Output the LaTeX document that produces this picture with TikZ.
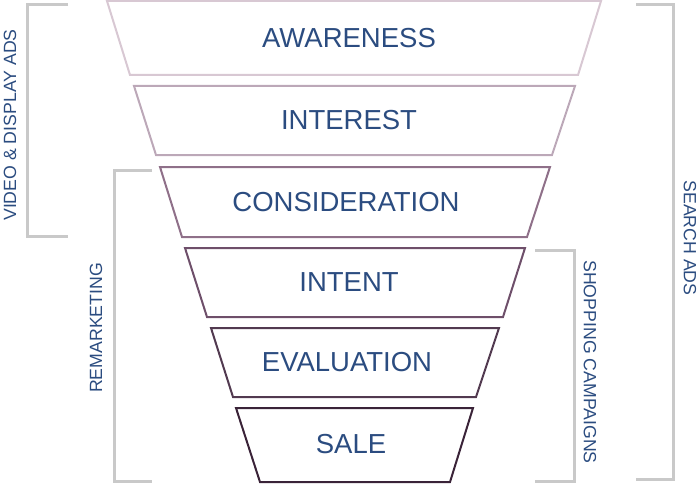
\documentclass[tikz,border=0pt]{standalone}
\usepackage{fontspec}
\setmainfont{Liberation Sans}
\definecolor{txt}{HTML}{2B4C80}
\definecolor{brk}{HTML}{C9C9C9}
\definecolor{c1}{HTML}{D8C8D3}
\definecolor{c2}{HTML}{BCA8B8}
\definecolor{c3}{HTML}{8F7089}
\definecolor{c4}{HTML}{6E4F6A}
\definecolor{c5}{HTML}{523A50}
\definecolor{c6}{HTML}{3A2338}
\tikzset{
  stage/.style={line width=2pt, line join=miter},
  lbl/.style={text=txt, font=\fontsize{27.5}{30}\selectfont, inner sep=0pt},
  side/.style={text=txt, font=\fontsize{17.7}{20}\selectfont, inner sep=0pt},
  bracket/.style={draw=brk, line width=3pt},
}
\begin{document}
\begin{tikzpicture}[x=1pt,y=-1pt]
\useasboundingbox (0,0) rectangle (700,484);
% funnel stages
\draw[stage,draw=c1] (107,1) -- (601,1) -- (578,75) -- (130,75) -- cycle;
\draw[stage,draw=c2] (134,86) -- (575,86) -- (552,155) -- (156,155) -- cycle;
\draw[stage,draw=c3] (160,167) -- (550,167) -- (527,237) -- (182,237) -- cycle;
\draw[stage,draw=c4] (185,248) -- (525,248) -- (503,317) -- (207,317) -- cycle;
\draw[stage,draw=c5] (211,328) -- (499,328) -- (476,397) -- (233,397) -- cycle;
\draw[stage,draw=c6] (236,408) -- (473,408) -- (450,482) -- (260,482) -- cycle;
\node[lbl] (aw) at (349,38) {AWARENESS};
\node[lbl] (in) at (349,120) {INTEREST};
\node[lbl] (co) at (346,202) {CONSIDERATION};
\node[lbl] (it) at (349,282) {INTENT};
\node[lbl] (ev) at (347,362) {EVALUATION};
\node[lbl] (sa) at (351,444) {SALE};
% brackets
\draw[bracket] (68,5) -- (27,5) -- (27,236) -- (68,236);
\draw[bracket] (152,170) -- (114,170) -- (114,481) -- (152,481);
\draw[bracket] (636,5) -- (673,5) -- (673,479) -- (636,479);
\draw[bracket] (535,250) -- (574,250) -- (574,481) -- (535,481);
% side labels
\node[side,rotate=90] (vd) at (10,125) {VIDEO \& DISPLAY ADS};
\node[side,rotate=90] (rm) at (96,328) {REMARKETING};
\node[side,rotate=-90] (sr) at (690,238) {SEARCH ADS};
\node[side,rotate=-90] (sh) at (590,362) {SHOPPING CAMPAIGNS};
\end{tikzpicture}
\end{document}
